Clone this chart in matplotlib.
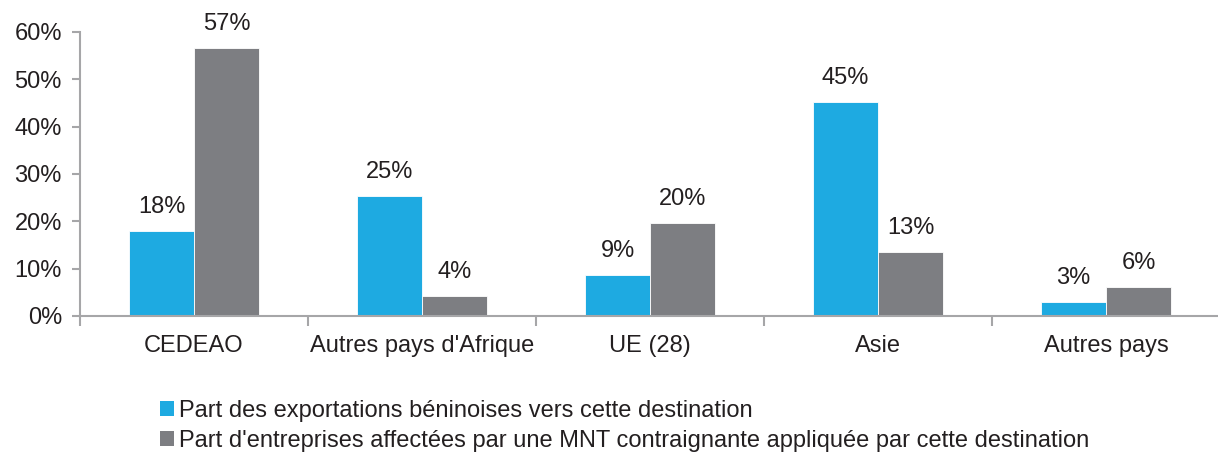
import matplotlib
matplotlib.use("Agg")
import matplotlib.pyplot as plt
from matplotlib.patches import Patch
import numpy as np

categories = ["CEDEAO", "Autres pays d'Afrique", "UE (28)", "Asie", "Autres pays"]
exports_share = [17.9, 25.3, 8.7, 45.3, 3.0]
firms_share = [56.6, 4.3, 19.7, 13.5, 6.1]
exports_labels = ["18%", "25%", "9%", "45%", "3%"]
firms_labels = ["57%", "4%", "20%", "13%", "6%"]
series_names = ["Part des exportations béninoises vers cette destination",
                "Part d'entreprises affectées par une MNT contraignante appliquée par cette destination"]
yticks = [0, 10, 20, 30, 40, 50, 60]

plt.rcParams['font.family'] = ['Liberation Sans', 'DejaVu Sans']
BLUE = "#1eaae1"
GRAY = "#7d7e82"
AX = "#a6a6a8"
TXT = "#231f20"
FS = 17

fig = plt.figure(figsize=(12.18, 4.59), dpi=100)
ax = fig.add_axes([80/1218, (459-316)/459, 1140/1218, (316-32)/459])

x = np.arange(len(categories))
w = 0.285
ax.bar(x - w/2, exports_share, width=w, color=BLUE, edgecolor="white", linewidth=0.6)
ax.bar(x + w/2, firms_share, width=w, color=GRAY, edgecolor="white", linewidth=0.6)

for xi, v, lab in zip(x, exports_share, exports_labels):
    ax.text(xi - w/2, v + 2.7, lab, ha="center", va="bottom", fontsize=FS, color=TXT)
for xi, v, lab in zip(x, firms_share, firms_labels):
    ax.text(xi + w/2, v + 2.7, lab, ha="center", va="bottom", fontsize=FS, color=TXT)

ax.set_xlim(-0.5, len(categories) - 0.5)
ax.set_ylim(0, 60)
ax.set_yticks(yticks)
ax.set_yticklabels([f"{t}%" for t in yticks], fontsize=FS, color=TXT)
ax.set_xticks(np.arange(len(categories) + 1) - 0.5)
ax.set_xticklabels([])
ax.set_xticks(x, minor=True)
ax.set_xticklabels(categories, minor=True, fontsize=FS, color=TXT)
ax.tick_params(axis="x", which="minor", length=0, pad=14)
ax.tick_params(axis="x", which="major", length=7, color=AX, width=1.5)
ax.tick_params(axis="y", length=6, color=AX, width=1.5, pad=7)

for s in ["top", "right"]:
    ax.spines[s].set_visible(False)
for s in ["left", "bottom"]:
    ax.spines[s].set_color(AX)
    ax.spines[s].set_linewidth(1.5)

handles = [Patch(facecolor=BLUE), Patch(facecolor=GRAY)]
fig.legend(handles, series_names, loc="upper left", bbox_to_anchor=(160/1218, 1 - 400/459),
           frameon=False, fontsize=FS, handlelength=0.6, handleheight=0.6,
           handletextpad=0.2, labelspacing=0.35, borderaxespad=0, borderpad=0,
           labelcolor=TXT)

fig.savefig("out.png", dpi=100)
